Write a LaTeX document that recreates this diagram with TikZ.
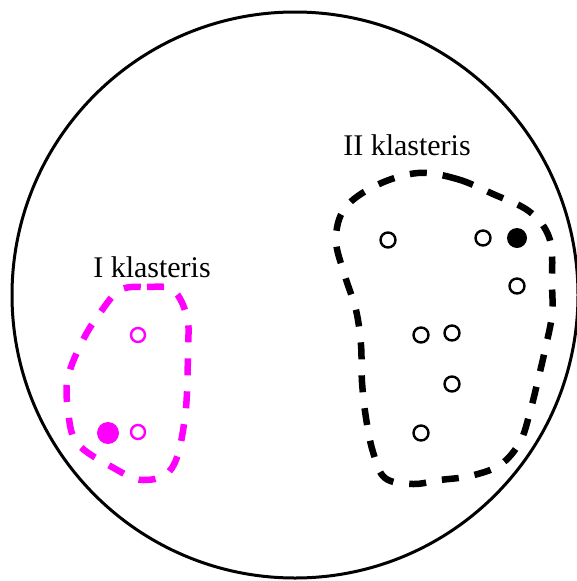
\documentclass[tikz,border=0pt]{standalone}
\usepackage{fontspec}
\setmainfont{Liberation Serif}
\definecolor{pinkline}{RGB}{255,0,255}
\begin{document}
\begin{tikzpicture}[x=1pt,y=-1pt,
    hole/.style={circle,draw,line width=2.4pt,minimum size=15pt,inner sep=0pt},
    full/.style={circle,fill,minimum size=20pt,inner sep=0pt},
    zone/.style={line width=6.5pt,dash pattern=on 17pt off 16pt},
    tag/.style={font=\fontsize{30}{32}\selectfont,anchor=base,inner sep=0pt}]
    \useasboundingbox (0,0) rectangle (576,581);
    \draw[line width=3pt] (295,295) circle (283pt);
    % first cluster
    \draw[zone,pinkline] plot[smooth cycle,tension=0.6] coordinates {
        (120,290) (147,287) (173,290) (187,317) (188,350) (185,417)
        (172,468) (143,480) (112,467) (77,443) (68,410) (68,377) (83,340) (100,313)};
    \foreach \n/\p in {a1/{(138,335)},a2/{(138,432)}}{
        \node[hole,pinkline,minimum size=14pt] (\n) at \p {};
    }
    \node[full,pinkline,minimum size=22pt] (a3) at (108,433) {};
    \node[tag] (t1) at (152,277) {I klasteris};
    % second cluster
    \draw[zone] plot[smooth cycle,tension=0.6] coordinates {
        (418,173) (457,179) (493,194) (530,212) (550,240) (552,285) (552,315)
        (545,350) (538,380) (530,412) (520,442) (500,465) (470,476) (440,480)
        (413,484) (385,478) (373,452) (366,418) (362,382) (361,345) (356,310)
        (345,276) (336,240) (345,208) (377,185)};
    \foreach \n/\p in {b1/{(388,240)},b2/{(483,238)},b3/{(517,286)},b4/{(421,335)},
        b5/{(452,333)},b6/{(452,384)},b7/{(421,433)}}{
        \node[hole] (\n) at \p {};
    }
    \node[full] (b8) at (517,238) {};
    \node[tag] (t2) at (407,155) {II klasteris};
\end{tikzpicture}
\end{document}
